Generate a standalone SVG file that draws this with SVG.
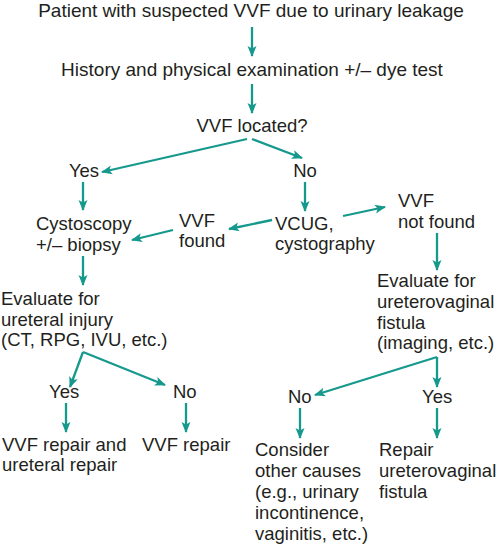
<svg xmlns="http://www.w3.org/2000/svg" width="500" height="544" viewBox="0 0 500 544">
<defs>
<style>
text{font-family:"Liberation Sans",Arial,Helvetica,sans-serif;font-size:18.5px;fill:#231f20}
.t{font-size:19px}
.c{stroke:#16998d;stroke-width:2.3;fill:none;marker-end:url(#ah)}
.n{stroke:#16998d;stroke-width:2.3;fill:none}
</style>
<marker id="ah" markerUnits="userSpaceOnUse" markerWidth="12" markerHeight="12" viewBox="0 0 12 10" refX="10" refY="5" orient="auto">
<path d="M0,0.5 L11,5 L0,9.5 L2.5,5 z" fill="#16998d"/>
</marker>
</defs>
<rect width="500" height="544" fill="#ffffff"/>
<g id="connectors">
<line class="c" x1="252" y1="27" x2="252" y2="56"/>
<line class="c" x1="252" y1="84" x2="252" y2="113"/>
<line class="c" x1="247" y1="139" x2="102" y2="172"/>
<line class="c" x1="252" y1="139" x2="302" y2="158"/>
<line class="c" x1="83" y1="182" x2="83" y2="210"/>
<line class="c" x1="305" y1="182" x2="305" y2="211"/>
<line class="c" x1="272" y1="220" x2="229" y2="229"/>
<line class="c" x1="173" y1="230" x2="132" y2="240"/>
<line class="c" x1="343" y1="216" x2="385" y2="207"/>
<line class="c" x1="83" y1="256" x2="83" y2="285"/>
<line class="c" x1="437" y1="233" x2="437" y2="270"/>
<line class="c" x1="83" y1="352" x2="70" y2="387"/>
<line class="c" x1="83" y1="352" x2="165" y2="385"/>
<line class="c" x1="66" y1="403" x2="66" y2="432"/>
<line class="c" x1="186" y1="403" x2="186" y2="432"/>
<line class="c" x1="437" y1="357" x2="437" y2="387"/>
<line class="c" x1="437" y1="357" x2="315" y2="395"/>
<line class="c" x1="300" y1="408" x2="300" y2="438"/>
<line class="c" x1="437" y1="408" x2="437" y2="438"/>
</g>
<g id="patient"><text class="t" x="251" y="17" text-anchor="middle">Patient with suspected VVF due to urinary leakage</text></g>
<g id="history"><text class="t" x="252" y="76" text-anchor="middle">History and physical examination +/– dye test</text></g>
<g id="located"><text x="252" y="132" text-anchor="middle">VVF located?</text></g>
<g id="yes1"><text x="84" y="177" text-anchor="middle">Yes</text></g>
<g id="no1"><text x="305" y="177" text-anchor="middle">No</text></g>
<g id="cystoscopy"><text x="36" y="230">Cystoscopy</text><text x="36" y="251">+/– biopsy</text></g>
<g id="vvffound"><text x="179" y="227">VVF</text><text x="179" y="247">found</text></g>
<g id="vcug"><text x="275" y="230">VCUG,</text><text x="275" y="250">cystography</text></g>
<g id="notfound"><text x="398" y="207">VVF</text><text x="398" y="228">not found</text></g>
<g id="evalureteral"><text x="1" y="305">Evaluate for</text><text x="1" y="326">ureteral injury</text><text x="1" y="346">(CT, RPG, IVU, etc.)</text></g>
<g id="evaluv"><text x="377" y="287">Evaluate for</text><text x="377" y="308">ureterovaginal</text><text x="377" y="329">fistula</text><text x="377" y="349">(imaging, etc.)</text></g>
<g id="yes2"><text x="49" y="398">Yes</text></g>
<g id="no2"><text x="173" y="398">No</text></g>
<g id="vvfureteral"><text x="2" y="451">VVF repair and</text><text x="2" y="471">ureteral repair</text></g>
<g id="vvfrepair"><text x="142" y="451">VVF repair</text></g>
<g id="no3"><text x="288" y="403">No</text></g>
<g id="yes3"><text x="422" y="403">Yes</text></g>
<g id="consider"><text x="255" y="456">Consider</text><text x="255" y="477">other causes</text><text x="255" y="498">(e.g., urinary</text><text x="255" y="519">incontinence,</text><text x="255" y="540">vaginitis, etc.)</text></g>
<g id="repairuv"><text x="379" y="456">Repair</text><text x="379" y="477">ureterovaginal</text><text x="379" y="498">fistula</text></g>
</svg>
